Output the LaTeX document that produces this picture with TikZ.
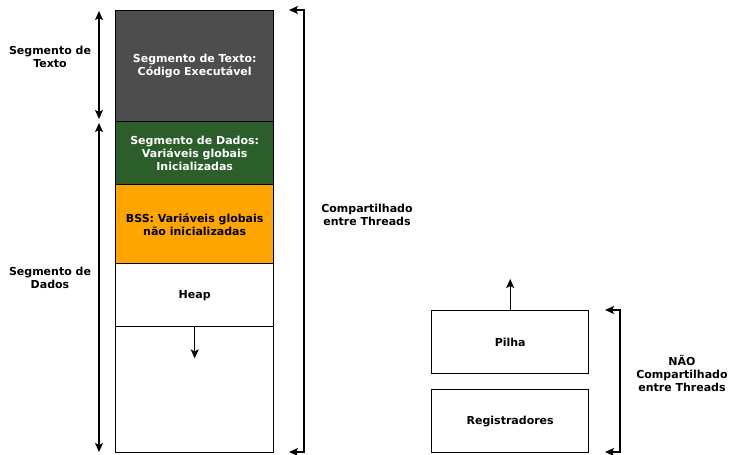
\documentclass[tikz,border=0pt]{standalone}
\usepackage{fontspec}
\setmainfont{DejaVu Sans}
\usetikzlibrary{arrows.meta,calc}
\definecolor{txtgray}{HTML}{4D4D4D}
\definecolor{datgreen}{HTML}{2B5E2B}
\definecolor{bssorange}{HTML}{FFA500}
\begin{document}
\begin{tikzpicture}[x=1pt,y=-1pt,
  tip/.tip={Stealth[length=9pt,width=8pt,inset=2pt]},
  seg/.style={draw=black,line width=1.4pt,minimum width=158pt,inner sep=0pt,anchor=north west,align=center,font=\fontsize{11}{13}\selectfont\bfseries},
  lbl/.style={align=center,font=\fontsize{11}{13}\selectfont\bfseries},
  arr/.style={line width=1.3pt,-tip},
  darr/.style={line width=1.3pt,tip-tip}]
\useasboundingbox (0,0) rectangle (731,455);
\node[seg,fill=txtgray,text=white,minimum height=111pt] (texto) at (115,10) {Segmento de Texto:\\Código Executável};
\node[seg,fill=datgreen,text=white,minimum height=63pt] (dados) at (115,121) {Segmento de Dados:\\Variáveis globais\\Inicializadas};
\node[seg,fill=bssorange,minimum height=79pt] (bss) at (115,184) {BSS: Variáveis globais\\não inicializadas};
\node[seg,fill=white,minimum height=63pt] (heap) at (115,263) {Heap};
\node[seg,fill=white,minimum height=126pt] (livre) at (115,326) {};
\coordinate (heapend) at ($(heap.south)+(0,31)$);
\draw[arr] (heap.south) -- (heapend);
% left dimension arrows
\coordinate (t1) at (99,11);
\coordinate (t2) at (99,119);
\coordinate (d1) at (99,123);
\coordinate (d2) at (99,452);
\draw[darr] (t1) -- (t2);
\draw[darr] (d1) -- (d2);
\node[lbl] (ltexto) at (50,57) {Segmento de\\Texto};
\node[lbl] (ldados) at (50,278) {Segmento de\\Dados};
% shared bracket
\coordinate (b1) at (289,10);
\coordinate (b2) at (304,10);
\coordinate (b3) at (304,452);
\coordinate (b4) at (289,452);
\draw[darr] (b1) -- (b2) -- (b3) -- (b4);
\node[lbl] (lshared) at (367,215) {Compartilhado\\entre Threads};
% thread-private
\node[seg,fill=white,minimum width=157pt,minimum height=63pt] (pilha) at (431,310) {Pilha};
\node[seg,fill=white,minimum width=157pt,minimum height=63pt] (regs) at (431,389) {Registradores};
\coordinate (pilhaend) at ($(pilha.north)+(0,-31)$);
\draw[arr] (pilha.north) -- (pilhaend);
\coordinate (c1) at (605,310);
\coordinate (c2) at (620,310);
\coordinate (c3) at (620,452);
\coordinate (c4) at (605,452);
\draw[darr] (c1) -- (c2) -- (c3) -- (c4);
\node[lbl] (lpriv) at (682,373) {NÃO\\Compartilhado\\entre Threads};
\end{tikzpicture}
\end{document}
